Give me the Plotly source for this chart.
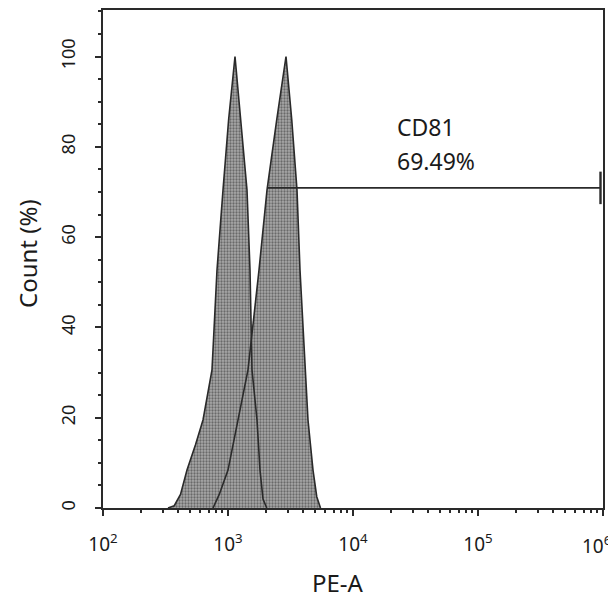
import plotly.graph_objects as go

# ---- data ----
peak1_log_x = [2.52, 2.57, 2.62, 2.672, 2.74, 2.80, 2.872, 2.912, 2.96, 3.005, 3.056,
               3.10, 3.152, 3.176, 3.192, 3.232, 3.256, 3.28, 3.31]
peak1_count = [0, 0.5, 3, 8.4, 14, 19.5, 30.6, 52.7, 70.4, 86, 100,
               86, 70.4, 52.7, 30.6, 19.5, 8.4, 2, 0]

peak2_log_x = [2.88, 2.93, 3.00, 3.08, 3.16, 3.248, 3.312, 3.39, 3.464,
               3.51, 3.552, 3.576, 3.616, 3.64, 3.68, 3.71, 3.74]
peak2_count = [0, 3, 8.4, 19.5, 30.6, 52.7, 70.4, 86, 100,
               86, 70.4, 52.7, 30.6, 19.5, 8.4, 2.5, 0]

gate_start = 2050
gate_end = 955000
gate_level = 70.9
gate_name = "CD81"
gate_pct = "69.49%"

x_tick_vals = [1e2, 1e3, 1e4, 1e5, 1e6]
x_tick_text = ["10<sup>2</sup>", "10<sup>3</sup>", "10<sup>4</sup>", "10<sup>5</sup>", "10<sup>6</sup>"]
y_tick_vals = [0, 20, 40, 60, 80, 100]

x1 = [10 ** v for v in peak1_log_x]
x2 = [10 ** v for v in peak2_log_x]

FONT = "Noto Sans"
EDGE = "#2a2a2a"
TXT = "#1a1a1a"

fig = go.Figure()

for xs, ys in [(x1, peak1_count), (x2, peak2_count)]:
    fig.add_trace(go.Scatter(
        x=xs, y=ys, mode="lines", fill="toself",
        fillcolor="#8a8a8a",
        fillpattern=dict(shape=".", fgcolor="#2a2a2a", bgcolor="#a9a9a9", size=3, solidity=0.45),
        line=dict(width=0, color="rgba(0,0,0,0)"),
        hoverinfo="skip", showlegend=False))

for xs, ys in [(x1, peak1_count), (x2, peak2_count)]:
    fig.add_trace(go.Scatter(
        x=xs, y=ys, mode="lines",
        line=dict(width=1.6, color=EDGE),
        hoverinfo="skip", showlegend=False))

# gate
fig.add_trace(go.Scatter(
    x=[gate_start, gate_end], y=[gate_level, gate_level], mode="lines",
    line=dict(width=1.8, color=EDGE), hoverinfo="skip", showlegend=False))
fig.add_trace(go.Scatter(
    x=[gate_end, gate_end], y=[gate_level - 3.6, gate_level + 3.6], mode="lines",
    line=dict(width=2.4, color=EDGE), hoverinfo="skip", showlegend=False))

fig.add_annotation(
    x=4.336, y=84.3, xref="x", yref="y", xanchor="left", yanchor="middle",
    text=gate_name, showarrow=False, align="left",
    font=dict(family=FONT, size=23, color=TXT))
fig.add_annotation(
    x=4.336, y=76.9, xref="x", yref="y", xanchor="left", yanchor="middle",
    text=gate_pct, showarrow=False, align="left",
    font=dict(family=FONT, size=23, color=TXT))

fig.add_annotation(
    x=-0.152, y=0.51, xref="paper", yref="paper", textangle=-90,
    xanchor="center", yanchor="middle",
    text="Count (%)", showarrow=False,
    font=dict(family=FONT, size=24, color=TXT))

fig.add_annotation(
    x=0.47, y=0, xref="paper", yref="paper", yshift=-74,
    xanchor="center", yanchor="middle",
    text="PE-A", showarrow=False,
    font=dict(family=FONT, size=24, color=TXT))

# last decade label, kept inside the window (the reference shows it flush at the edge)
fig.add_annotation(
    x=1.02, y=0, xref="paper", yref="paper", yshift=-37,
    xanchor="right", yanchor="middle",
    text=x_tick_text[-1], showarrow=False,
    font=dict(family=FONT, size=19, color=TXT))

fig.update_layout(
    width=608, height=592,
    margin=dict(l=95, r=13, t=2, b=92, autoexpand=False),
    paper_bgcolor="white", plot_bgcolor="white",
    font=dict(family=FONT, size=18, color=TXT),
    showlegend=False,
)

fig.update_xaxes(
    type="log", range=[2, 6], automargin=False,
    tickvals=x_tick_vals, ticktext=x_tick_text[:-1] + [""],
    ticks="outside", ticklen=6, tickwidth=1.5, tickcolor=EDGE,
    minor=dict(ticks="outside", ticklen=3, tickcolor=EDGE,
               tickvals=[m * 10 ** d for d in range(2, 6) for m in range(2, 10)]),
    showline=True, linecolor=EDGE, linewidth=2, mirror=True,
    showgrid=False, zeroline=False,
    tickfont=dict(family=FONT, size=19, color=TXT),
    ticklabelstandoff=12,
)

fig.update_yaxes(
    range=[0, 110.3], automargin=False,
    tickvals=y_tick_vals, tickangle=-90,
    ticks="outside", ticklen=6, tickwidth=1.5, tickcolor=EDGE,
    minor=dict(ticks="outside", ticklen=3, tickcolor=EDGE, dtick=5),
    showline=True, linecolor=EDGE, linewidth=2, mirror=True,
    showgrid=False, zeroline=False,
    tickfont=dict(family=FONT, size=18, color=TXT),
    ticklabelstandoff=13,
)

fig.write_html("out.html")
